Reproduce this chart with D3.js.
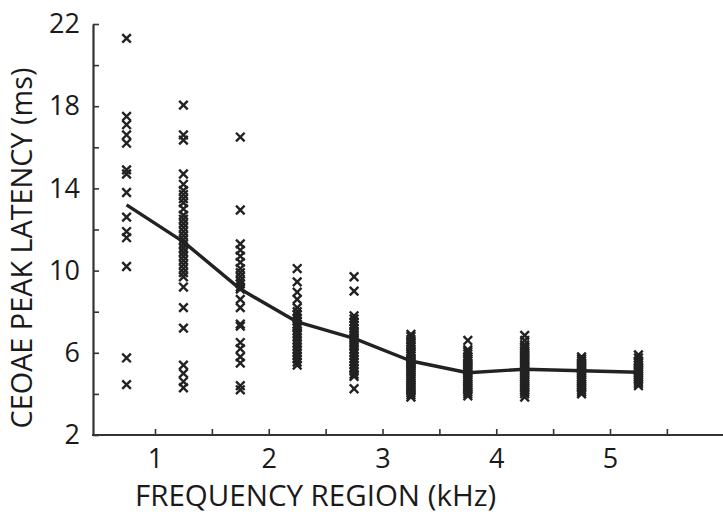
<!DOCTYPE html>
<html>
<head>
<meta charset="utf-8">
<script src="https://cdn.jsdelivr.net/npm/d3@7"></script>
<style>
  html, body { margin: 0; padding: 0; background: #fff; }
  svg { display: block; }
  text { font-family: "Open Sans", "Noto Sans", sans-serif; fill: #1a1a1a; }
</style>
</head>
<body>
<svg id="chart" width="723" height="520"></svg>
<script>
// ---- data ----
const regions = [0.75, 1.25, 1.75, 2.25, 2.75, 3.25, 3.75, 4.25, 4.75, 5.25];
const meanLatency = [13.2, 11.4, 9.1, 7.5, 6.7, 5.6, 5.03, 5.2, 5.13, 5.05];

const lat075 = [21.3, 17.5, 17.1, 16.6, 16.2, 14.9, 14.7, 13.8, 12.6, 11.9, 11.6, 10.2, 5.75, 4.45];
const lat125 = [18.05, 16.6, 16.35, 14.7, 14.2, 13.9, 13.7, 13.5, 13.3, 13.0, 12.7, 12.5, 12.3, 12.1, 11.9, 11.7, 11.5, 11.3, 11.1, 10.9, 10.7, 10.5, 10.3, 10.1, 9.9, 9.7, 9.2, 8.2, 7.2, 5.4, 5.0, 4.6, 4.3];
const lat175 = [16.5, 12.95, 11.3, 11.0, 10.7, 10.4, 10.1, 9.9, 9.7, 9.5, 9.35, 9.2, 9.1, 8.6, 8.2, 7.4, 7.3, 6.5, 6.2, 5.8, 5.5, 4.4, 4.2];
const lat225 = [10.1, 9.45, 8.95, 8.6, 8.2, 8.0, 7.85, 7.7, 7.55, 7.4, 7.3, 7.2, 7.05, 6.9, 6.75, 6.6, 6.45, 6.3, 6.15, 6.0, 5.85, 5.7, 5.55, 5.4];
const lat275 = [9.7, 9.0, 7.8, 7.65, 7.5, 7.35, 7.2, 7.05, 6.95, 6.8, 6.7, 6.55, 6.4, 6.3, 6.15, 6.0, 5.85, 5.7, 5.55, 5.4, 5.25, 5.1, 4.95, 4.85, 4.25];
const lat325 = [6.9, 6.8, 6.65, 6.5, 6.4, 6.3, 6.2, 6.05, 5.95, 5.85, 5.75, 5.65, 5.55, 5.45, 5.35, 5.25, 5.15, 5.05, 4.95, 4.85, 4.75, 4.65, 4.55, 4.45, 4.35, 4.25, 4.15, 4.05, 3.95, 3.85];
const lat375 = [6.6, 6.15, 6.05, 5.95, 5.8, 5.7, 5.6, 5.5, 5.4, 5.3, 5.2, 5.1, 5.0, 4.9, 4.8, 4.7, 4.6, 4.5, 4.4, 4.3, 4.2, 4.1, 4.0, 3.9];
const lat425 = [6.85, 6.6, 6.4, 6.3, 6.2, 6.1, 6.0, 5.9, 5.8, 5.7, 5.6, 5.5, 5.4, 5.3, 5.2, 5.1, 5.0, 4.9, 4.8, 4.7, 4.6, 4.5, 4.4, 4.3, 4.2, 4.1, 4.0, 3.85];
const lat475 = [5.8, 5.7, 5.6, 5.5, 5.4, 5.3, 5.2, 5.1, 5.0, 4.9, 4.8, 4.7, 4.6, 4.5, 4.4, 4.3, 4.2, 4.1, 4.0];
const lat525 = [5.9, 5.75, 5.6, 5.5, 5.4, 5.3, 5.2, 5.1, 5.0, 4.9, 4.8, 4.7, 4.6, 4.5, 4.4];
const latencies = [lat075, lat125, lat175, lat225, lat275, lat325, lat375, lat425, lat475, lat525];

const yTicks = [2, 4, 6, 8, 10, 12, 14, 16, 18, 20, 22];
const yTickLabels = [2, 6, 10, 14, 18, 22];
const xTicks = [1, 1.5, 2, 2.5, 3, 3.5, 4, 4.5, 5, 5.5, 6];
const xTickLabels = [1, 2, 3, 4, 5];
const xTitle = "FREQUENCY REGION (kHz)";
const yTitle = "CEOAE PEAK LATENCY (ms)";

// ---- drawing ----
const svg = d3.select("#chart");
const ink = "#222";
const axisX0 = 93, axisX1 = 723;

const x = d3.scaleLinear().domain([1, 5]).range([155, 610]);
const y = d3.scaleLinear().domain([2, 22]).range([435, 24]);

// axes
const yAxis = d3.axisLeft(y)
  .tickValues(yTicks)
  .tickSizeInner(-6).tickSizeOuter(0).tickPadding(13)
  .tickFormat(d => yTickLabels.includes(d) ? d : "");
const gy = svg.append("g").attr("transform", `translate(${axisX0},0)`).call(yAxis);

const xAxis = d3.axisBottom(x)
  .tickValues(xTicks)
  .tickSizeInner(-6).tickSizeOuter(0).tickPadding(14)
  .tickFormat(d => xTickLabels.includes(d) ? d : "");
const gx = svg.append("g").attr("transform", `translate(0,${y(2)})`).call(xAxis);
gx.select(".domain").remove();
svg.append("line")
  .attr("x1", axisX0 - 1).attr("x2", axisX1)
  .attr("y1", y(2)).attr("y2", y(2))
  .attr("stroke", "#333").attr("stroke-width", 2.2);

[gx, gy].forEach(g => {
  g.select(".domain").attr("stroke", "#333").attr("stroke-width", 2.2);
  g.selectAll(".tick line").attr("stroke", "#333").attr("stroke-width", 1.6);
  g.selectAll(".tick text").attr("font-size", 27).attr("fill", "#1a1a1a")
    .attr("font-family", '"Open Sans", "Noto Sans", sans-serif');
});

// markers
const pts = [];
regions.forEach((r, i) => latencies[i].forEach(v => pts.push([r, v])));
const s = 4.3;
svg.append("g").selectAll("path").data(pts).join("path")
  .attr("d", d => {
    const cx = x(d[0]), cy = y(d[1]);
    return `M${cx - s},${cy - s}L${cx + s},${cy + s}M${cx - s},${cy + s}L${cx + s},${cy - s}`;
  })
  .attr("stroke", ink).attr("stroke-width", 2.4).attr("fill", "none");

// mean line
const line = d3.line().x((d, i) => x(regions[i])).y(d => y(d));
svg.append("path").datum(meanLatency)
  .attr("d", line).attr("fill", "none")
  .attr("stroke", ink).attr("stroke-width", 3.4).attr("stroke-linejoin", "round");

// titles
svg.append("text")
  .attr("x", 135).attr("y", 506)
  .attr("font-size", 29.5).attr("text-anchor", "start")
  .text(xTitle);

svg.append("text")
  .attr("transform", "translate(32,248) rotate(-90)")
  .attr("font-size", 28.8).attr("text-anchor", "middle")
  .text(yTitle);
</script>
</body>
</html>
